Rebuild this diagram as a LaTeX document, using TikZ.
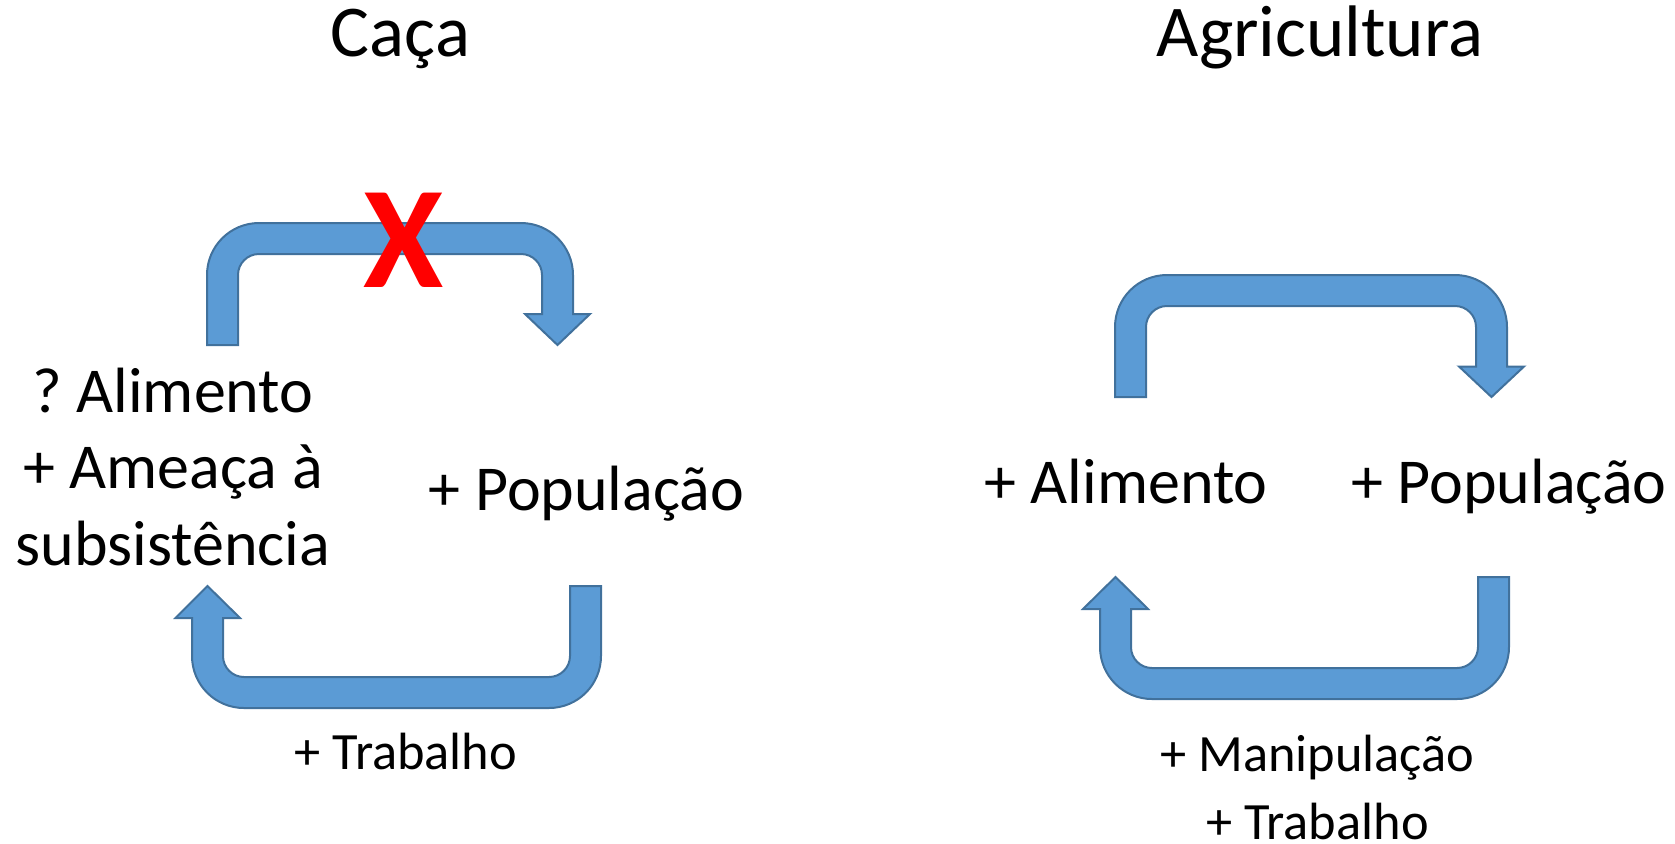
\documentclass[tikz,border=0pt]{standalone}
\usepackage{fontspec}
\setmainfont{Carlito}
\usepackage{tikz}
\definecolor{arrowfill}{HTML}{5B9BD5}
\definecolor{arrowline}{HTML}{41719C}
\frenchspacing

\begin{document}
\begin{tikzpicture}[x=.5pt,y=-.5pt,
	cyc/.style={fill=arrowfill,draw=arrowline,line width=1pt},
	heading/.style={anchor=base,inner sep=0pt,font=\fontsize{36.5}{44}\selectfont},
	lbl/.style={anchor=base,inner sep=0pt,align=center,font=\fontsize{32}{38.25}\selectfont},
	note/.style={anchor=base,inner sep=0pt,align=center,font=\fontsize{26.2}{34}\selectfont}]
	
	\useasboundingbox (0,0) rectangle (1675,843);
	
	% Caca
	\node[heading] (caca) at (400.5,56) {Caça};
	\draw[cyc] (207,345) -- (207,275) arc[start angle=180,end angle=270,radius=52] -- (521,223)
		arc[start angle=270,end angle=360,radius=52] -- (573,314) -- (590,314) -- (557.5,345)
		-- (525,314) -- (542,314) -- (542,275) arc[start angle=0,end angle=-90,radius=21]
		-- (259,254) arc[start angle=270,end angle=180,radius=21] -- (238,345) -- cycle;
	\draw[cyc] (601,586) -- (601,656) arc[start angle=0,end angle=90,radius=52] -- (244,708)
		arc[start angle=90,end angle=180,radius=52] -- (192,618) -- (175.5,618) -- (207.5,586)
		-- (240,618) -- (223,618) -- (223,656) arc[start angle=180,end angle=90,radius=21]
		-- (549,677) arc[start angle=90,end angle=0,radius=21] -- (570,586) -- cycle;
	\node[anchor=base,inner sep=0pt,text=red,font=\bfseries\fontsize{72.8}{80}\selectfont] (nao) at (404,287) {X};
	\node[lbl] (alimA) at (173,565) {? Alimento\\+ Ameaça à\\subsistência};
	\node[lbl] (popA) at (586.5,510) {+ População};
	\node[note] (trabA) at (406,769) {+ Trabalho};
	
	% Agricultura
	\node[heading] (agri) at (1320,56) {Agricultura};
	\draw[cyc] (1115,397) -- (1115,327) arc[start angle=180,end angle=270,radius=52] -- (1455,275)
		arc[start angle=270,end angle=360,radius=52] -- (1507,366.5) -- (1524,366.5) -- (1491.5,397)
		-- (1459,366.5) -- (1476,366.5) -- (1476,327) arc[start angle=0,end angle=-90,radius=21]
		-- (1167,306) arc[start angle=270,end angle=180,radius=21] -- (1146,397) -- cycle;
	\draw[cyc] (1509,577) -- (1509,647) arc[start angle=0,end angle=90,radius=52] -- (1152,699)
		arc[start angle=90,end angle=180,radius=52] -- (1100,609) -- (1083,609) -- (1115.5,577)
		-- (1148,609) -- (1131,609) -- (1131,647) arc[start angle=180,end angle=90,radius=21]
		-- (1457,668) arc[start angle=90,end angle=0,radius=21] -- (1478,577) -- cycle;
	\node[lbl] (alimB) at (1126,503.5) {+ Alimento};
	\node[lbl] (popB) at (1509,503.5) {+ População};
	\node[note] (trabB) at (1317.5,839) {+ Manipulação\\+ Trabalho};
	
\end{tikzpicture}
\end{document}
